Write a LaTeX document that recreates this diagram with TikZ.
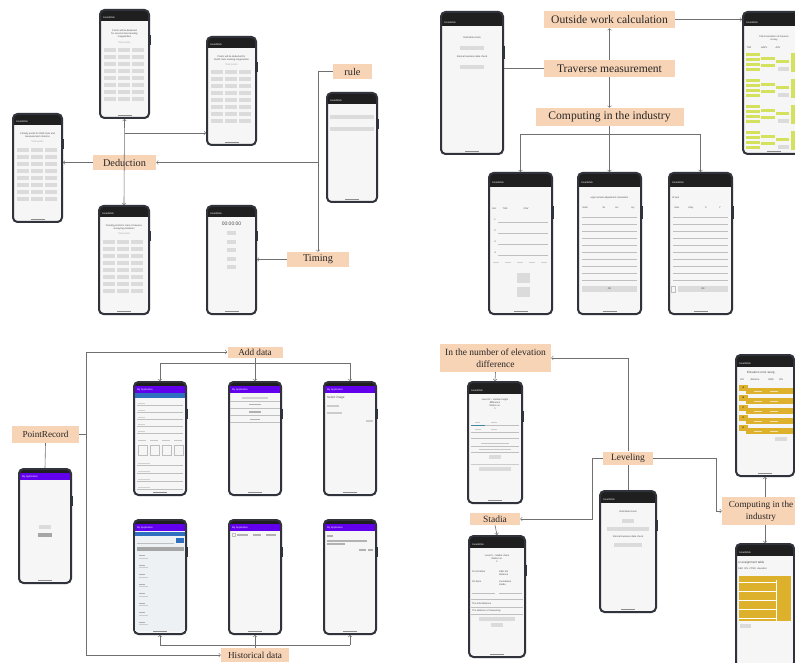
\documentclass[tikz,border=0pt]{standalone}
\usepackage{fontspec}
\setmainfont{Liberation Serif}
\setsansfont{Liberation Sans}
\usetikzlibrary{positioning,calc}
\definecolor{peach}{HTML}{F8D4B6}
\definecolor{bezelgray}{HTML}{30333B}
\definecolor{screengray}{HTML}{F6F6F6}
\definecolor{appbar}{HTML}{1F1F1F}
\definecolor{apppurple}{HTML}{6200EE}
\definecolor{appblue}{HTML}{2F6FBF}
\definecolor{limegreen}{HTML}{D3E15C}
\definecolor{goldbar}{HTML}{DDB12B}
\definecolor{linkgray}{HTML}{707070}
\definecolor{listbg}{HTML}{EEF1F4}

\tikzset{
  screenbody/.style={fill=screengray, rounded corners=6pt, inner sep=0pt, outer sep=0pt},
  bezel/.style={draw=bezelgray, line width=2pt, rounded corners=4.5pt},
  lbl/.style={fill=peach, inner sep=0pt, align=center, text=black!85, font=\fontsize{#1}{12}\selectfont},
  link/.style={draw=linkgray, line width=0.6pt},
  uitext/.style={font=\sffamily\fontsize{2.4}{3}\selectfont, text=black!70, inner sep=0pt},
  bartext/.style={font=\sffamily\fontsize{2.4}{3}\selectfont, text=white, inner sep=0pt},
  btn/.style={fill=black!14},
  smudge/.style={fill=black!30},
  rowline/.style={draw=black!25, line width=0.3pt},
}

% phone: name, left, top, width, height, bar colour, title
\newcommand{\smartphone}[7]{%
  \node[screenbody, minimum width=#4pt, minimum height=#5pt, anchor=north west] (#1) at (#2,#3) {};
  \fill[#6] (#2+2,#3+2) rectangle (#2+#4-2,#3+0.105*#5);
  \fill[appbar] (#2+2,#3+2) rectangle (#2+#4-2,#3+0.045*#5);
  \node[bartext, anchor=west] at (#2+4,#3+0.078*#5) {#7};
  \draw[bezel] (#2+1,#3+1) rectangle (#2+#4-1,#3+#5-1);
  \draw[bezelgray, line width=1pt] (#2+#4+0.3,#3+0.24*#5) -- ++(0,0.09*#5);
  \draw[black!45, line width=0.8pt] (#2+#4/2-7,#3+#5-3.5) -- ++(14,0);
}
% 3 x 8 grid of score keys
\newcommand{\keypad}[1]{%
  \foreach \r in {0,...,7}{\foreach \c in {0,1,2}{\fill[btn] (5+\c*14,#1+\r*7) rectangle ++(12,4);}}%
}

\begin{document}
\begin{tikzpicture}[x=1pt, y=-1pt]
  \useasboundingbox (0,0) rectangle (795,663);
  \clip (0,0) rectangle (795,663);
  \fill[white] (0,0) rectangle (795,663);

  % Deduction screens
  \smartphone{A}{99}{9}{51}{110}{appbar}{SmartENG}
  \begin{scope}[shift={(99,9)}]
    \node[uitext, align=center] at (25.5,25) {Points will be deducted\\for second class leveling\\irregularities};
    \node[uitext, text=black!35] at (25.5,34) {Total points};
    \keypad{39}
  \end{scope}
  \smartphone{B}{206}{36}{51}{110}{appbar}{SmartENG}
  \begin{scope}[shift={(206,36)}]
    \node[uitext, align=center] at (25.5,22) {Points will be deducted for\\fourth class leveling irregularities};
    \node[uitext, text=black!35] at (25.5,29) {Total points};
    \keypad{34}
  \end{scope}
  \smartphone{C}{12}{113}{51}{110}{appbar}{SmartENG}
  \begin{scope}[shift={(12,113)}]
    \node[uitext, align=center] at (25.5,22) {Penalty points for third class and\\measurement rotations};
    \node[uitext, text=black!35] at (25.5,29) {Total points};
    \keypad{35}
  \end{scope}
  \smartphone{D}{98}{205}{52}{110}{appbar}{SmartENG}
  \begin{scope}[shift={(98,205)}]
    \node[uitext, align=center] at (26,22) {Penalty points for class II traverse\\surveying violations};
    \node[uitext, text=black!35] at (26,29) {Total points};
    \keypad{35}
  \end{scope}

  % Timing and rule screens
  \smartphone{E}{206}{205}{51}{110}{appbar}{SmartENG}
  \begin{scope}[shift={(206,205)}]
    \node[uitext, font=\sffamily\fontsize{5}{6}\selectfont] at (25.5,19) {00:00:00};
    \foreach \k in {0,...,4} \fill[btn] (21,26+\k*8.5) rectangle ++(9,4);
  \end{scope}
  \smartphone{F}{326}{92}{52}{111}{appbar}{SmartENG}
  \begin{scope}[shift={(326,92)}]
    \fill[btn] (4,23) rectangle (48,27);
    \fill[btn] (4,35) rectangle (48,39);
  \end{scope}

  % Traverse screens
  \smartphone{G}{440}{11}{64}{144}{appbar}{SmartENG}
  \begin{scope}[shift={(440,11)}]
    \node[uitext] at (32,27) {Field data check};
    \fill[btn] (20,35) rectangle (44,39);
    \node[uitext] at (32,46) {Internal business data check};
    \fill[btn] (20,54) rectangle (44,58);
  \end{scope}
  \smartphone{H}{742}{11}{64}{144}{appbar}{SmartENG}
  \begin{scope}[shift={(742,11)}]
    \node[uitext, align=center] at (32,27) {Field calculation of traverse\\survey};
    \node[uitext] at (7,37) {TSR};
    \node[uitext] at (22,37) {HAZV};
    \node[uitext] at (36,37) {AZV};
    \foreach \g in {0,...,3}{
      \foreach \k in {0,...,3} \fill[limegreen] (4,42+\g*26+\k*5) rectangle ++(14,3.5);
      \fill[limegreen] (19,46+\g*26) rectangle ++(14,3.5);
      \fill[limegreen] (19,53+\g*26) rectangle ++(14,3.5);
      \fill[limegreen] (34,49+\g*26) rectangle ++(13,3.5);
      \fill[btn] (36,56+\g*26) rectangle ++(11,4);
      \fill[limegreen] (49,42+\g*26) rectangle ++(13,19);
    }
  \end{scope}
  \smartphone{I}{488}{172}{65}{143}{appbar}{SmartENG}
  \begin{scope}[shift={(488,172)}]
    \node[uitext] at (6,37) {GH};
    \node[uitext] at (17,37) {TGS};
    \node[uitext] at (38,37) {CAV};
    \foreach \k in {1,...,4}{
      \node[uitext] at (7,37+\k*11) {\k};
      \draw[rowline] (10,39+\k*11) -- (60,39+\k*11);
    }
    \foreach \k in {0,...,4} \fill[smudge, fill=black!18] (5+\k*12,90) rectangle ++(6,1.2);
    \fill[btn] (29,101) rectangle ++(13,10);
    \fill[btn] (29,115) rectangle ++(13,10);
  \end{scope}
  \smartphone{J}{577}{172}{65}{143}{appbar}{SmartENG}
  \begin{scope}[shift={(577,172)}]
    \node[uitext] at (32.5,26) {approximate adjustment calculation};
    \node[uitext] at (8,36) {mulb};
    \node[uitext] at (27,36) {SL};
    \node[uitext] at (40,36) {Gx};
    \node[uitext] at (56,36) {Gy};
    \foreach \k in {0,...,9} \draw[rowline] (5,45+\k*7) -- (60,45+\k*7);
    \fill[btn] (5,114) rectangle (60,120);
    \node[uitext] at (32.5,117) {OK};
  \end{scope}
  \smartphone{K}{668}{172}{65}{143}{appbar}{SmartENG}
  \begin{scope}[shift={(668,172)}]
    \node[uitext, anchor=west] at (4,26) {of wire};
    \node[uitext] at (9,36) {HGx};
    \node[uitext] at (23,36) {HGy};
    \node[uitext] at (38,36) {X};
    \node[uitext] at (52,36) {Y};
    \foreach \k in {0,...,9} \draw[rowline] (5,45+\k*7) -- (60,45+\k*7);
    \draw[rowline] (3,114) rectangle ++(4,6);
    \fill[btn] (10,114) rectangle (60,120);
    \node[uitext] at (35,117) {OK};
  \end{scope}

  % PointRecord screens
  \smartphone{L}{18}{468}{54}{116}{apppurple}{My Application}
  \begin{scope}[shift={(18,468)}]
    \fill[btn] (21,57) rectangle ++(12,4);
    \fill[btn, fill=black!35] (20,65) rectangle ++(14,4);
  \end{scope}
  \smartphone{M}{133}{381}{54}{115}{apppurple}{My Application}
  \begin{scope}[shift={(133,381)}]
    \fill[appblue] (2,12) rectangle (52,17);
    \foreach \k in {0,...,4}{
      \fill[smudge, fill=black!18] (5,22+\k*7) rectangle ++(7,1);
      \draw[rowline] (4,24+\k*7) -- (50,24+\k*7);
    }
    \foreach \k in {0,...,3}{
      \fill[smudge, fill=black!22] (5+\k*12,59) rectangle ++(8,1.2);
      \draw[rowline] (5+\k*12,64) rectangle ++(9,10);
    }
    \foreach \k in {0,...,3}{
      \fill[smudge, fill=black!18] (5,82+\k*8) rectangle ++(12,1);
      \draw[rowline] (4,84+\k*8) -- (50,84+\k*8);
    }
  \end{scope}
  \smartphone{N}{228}{381}{54}{115}{apppurple}{My Application}
  \begin{scope}[shift={(228,381)}]
    \fill[smudge, fill=black!18] (14,16.4) rectangle (40,17.6);
    \draw[rowline] (2,20) -- (52,20);
    \fill[smudge] (21,22.9) rectangle (33,24.1);
    \draw[rowline] (2,27) -- (52,27);
    \fill[smudge] (21,30.4) rectangle (33,31.6);
    \draw[rowline] (2,34.5) -- (52,34.5);
    \fill[smudge] (22,37.9) rectangle (32,39.1);
    \draw[rowline] (2,41) -- (52,41);
  \end{scope}
  \smartphone{O}{323}{381}{54}{115}{apppurple}{My Application}
  \begin{scope}[shift={(323,381)}]
    \node[uitext, anchor=west, font=\sffamily\fontsize{3}{3.5}\selectfont] at (4,17) {Select image};
    \fill[smudge, fill=black!20] (4,24.4) rectangle ++(12,1.2);
    \fill[smudge, fill=black!20] (4,31.4) rectangle ++(15,1.2);
    \fill[smudge, fill=black!20] (43,39.4) rectangle ++(7,1.2);
  \end{scope}
  \smartphone{M2}{133}{519}{54}{116}{apppurple}{My Application}
  \begin{scope}[shift={(133,519)}]
    \fill[listbg] (2,17) rectangle (52,112);
    \fill[appblue] (2,12.5) rectangle (52,17);
    \draw[rowline] (4,24) -- (41,24);
    \fill[appblue] (43,19) rectangle (51,24);
    \fill[black!35] (4,28) rectangle (51,32);
    \foreach \k in {0,...,7}{
      \fill[smudge] (6,36+\k*9.5) rectangle ++(6,1.1);
      \fill[smudge, fill=black!20] (6,38.5+\k*9.5) rectangle ++(9,1.1);
    }
  \end{scope}
  \smartphone{N2}{228}{519}{54}{116}{apppurple}{My Application}
  \begin{scope}[shift={(228,519)}]
    \draw[rowline] (4,14.5) rectangle ++(3,3);
    \fill[smudge] (9,15.4) rectangle ++(11,1.2);
    \fill[smudge] (25,15.4) rectangle ++(8,1.2);
    \fill[smudge] (38,15.4) rectangle ++(10,1.2);
  \end{scope}
  \smartphone{O2}{323}{519}{54}{116}{apppurple}{My Application}
  \begin{scope}[shift={(323,519)}]
    \fill[smudge] (4,16.4) rectangle ++(6,1.2);
    \fill[smudge] (4,21.4) rectangle ++(40,1.2);
    \fill[smudge] (4,24.4) rectangle ++(18,1.2);
    \fill[smudge] (36,30.4) rectangle ++(7,1.2);
    \fill[smudge] (45,30.4) rectangle ++(5,1.2);
  \end{scope}

  % Leveling screens
  \smartphone{P}{467}{381}{56}{123}{appbar}{SmartENG}
  \begin{scope}[shift={(467,381)}]
    \node[uitext, align=center] at (28,23) {Level IV -- median height\\difference\\Station no.\\1};
    \fill[smudge, fill=black!20] (8,41) rectangle ++(5,1);
    \fill[smudge, fill=black!20] (24,41) rectangle ++(6,1);
    \draw[rowline, draw=cyan!60!black] (4,44) -- (18,44);
    \draw[rowline] (18,44) -- (52,44);
    \fill[smudge, fill=black!20] (8,48) rectangle ++(6,1);
    \fill[smudge, fill=black!20] (24,48) rectangle ++(6,1);
    \draw[rowline] (4,51) -- (52,51);
    \draw[rowline] (4,57) -- (52,57);
    \fill[smudge, fill=black!22] (14,61.5) rectangle (42,62.5);
    \draw[rowline] (4,65) -- (52,65);
    \fill[smudge, fill=black!22] (12,68) rectangle (44,69);
    \draw[rowline] (4,71) -- (52,71);
    \fill[btn] (22,74) rectangle ++(12,4);
    \fill[smudge, fill=black!20] (4,82.5) rectangle (52,83.5);
    \fill[btn] (12,86) rectangle ++(32,4);
  \end{scope}
  \smartphone{Q}{468}{535}{58}{123}{appbar}{SmartENG}
  \begin{scope}[shift={(468,535)}]
    \node[uitext, align=center] at (29,24) {Level II -- Stadia check\\Station no.\\1};
    \node[uitext, anchor=west] at (4,37) {Front before};
    \node[uitext, anchor=north west, align=left] at (31,35.5) {After the\\distance};
    \node[uitext, anchor=west] at (4,47) {On back};
    \node[uitext, anchor=north west, align=left] at (31,45.5) {Cumulative\\stadia};
    \draw[rowline] (4,58) -- (27,58);
    \draw[rowline] (31,58) -- (54,58);
    \draw[rowline] (3,64) -- (55,64);
    \node[uitext, anchor=west] at (4,69) {The total distance};
    \draw[rowline] (3,72) -- (55,72);
    \node[uitext, anchor=west] at (4,76) {The distance of measuring};
    \draw[rowline] (3,79) -- (55,79);
    \fill[btn] (11,81.5) rectangle ++(36,4);
    \fill[btn] (23,87.5) rectangle ++(12,4);
  \end{scope}
  \smartphone{R}{599}{490}{58}{123}{appbar}{SmartENG}
  \begin{scope}[shift={(599,490)}]
    \node[uitext] at (29,22) {Field data check};
    \fill[btn] (23,28.5) rectangle ++(12,4);
    \fill[btn] (8,37) rectangle ++(42,4);
    \node[uitext] at (29,47) {Internal business data check};
    \fill[btn] (15,53) rectangle ++(28,4);
  \end{scope}
  \smartphone{S}{735}{354}{60}{123}{appbar}{SmartENG}
  \begin{scope}[shift={(735,354)}]
    \node[uitext, anchor=west, font=\sffamily\fontsize{3}{3.5}\selectfont] at (12,19) {Elevation error assig};
    \node[uitext] at (7,26) {ON};
    \node[uitext] at (20,26) {distance};
    \node[uitext] at (36,26) {OBD};
    \node[uitext] at (46,26) {ON};
    \foreach \l [count=\n from 0] in {A,B,C,D,E}{
      \fill[goldbar] (11,34+\n*10) rectangle (58,40+\n*10);
      \fill[goldbar] (4,31+\n*10) rectangle ++(9,6);
      \node[uitext, text=black] at (8.5,34+\n*10) {\l};
      \fill[white!60!goldbar] (19,36.6+\n*10) rectangle ++(8,0.8);
      \fill[white!60!goldbar] (35,36.6+\n*10) rectangle ++(8,0.8);
    }
    \fill[btn] (40,83) rectangle ++(12,4);
  \end{scope}
  \smartphone{T}{735}{543}{60}{125}{appbar}{SmartENG}
  \begin{scope}[shift={(735,543)}]
    \node[uitext, anchor=west, font=\sffamily\fontsize{3}{3.5}\selectfont] at (3,20) {or assignment table};
    \node[uitext, anchor=west] at (3,26) {SED\ \ ON\ \ CTED\ \ elevation};
    \fill[goldbar] (4,33) rectangle (56,78);
    \foreach \k in {0,...,4} \draw[white, line width=1pt] (4,39+\k*9) -- (41,39+\k*9);
    \draw[white, line width=0.5pt] (41,37) -- (41,78);
    \fill[btn] (5,81) rectangle ++(11,4);
  \end{scope}

  % labels
  \node[lbl=10.3, minimum width=63pt, minimum height=15pt] (ded) at (124.5,162.5) {Deduction};
  \node[lbl=10.3, minimum width=39pt, minimum height=15pt] (rule) at (352.5,71.5) {rule};
  \node[lbl=10.3, minimum width=62pt, minimum height=15pt] (tim) at (318,259.5) {Timing};
  \node[lbl=11.6, minimum width=131pt, minimum height=17pt] (out) at (609.5,19.5) {Outside work calculation};
  \node[lbl=11.6, minimum width=131pt, minimum height=17pt] (trav) at (609.5,68.5) {Traverse measurement};
  \node[lbl=11.6, minimum width=148pt, minimum height=18pt] (comp) at (609.5,117) {Computing in the industry};
  \node[lbl=9.2, minimum width=55pt, minimum height=11pt] (add) at (255,352) {Add data};
  \node[lbl=9.2, minimum width=67pt, minimum height=17pt] (pr) at (45.5,434.5) {PointRecord};
  \node[lbl=9.2, minimum width=68pt, minimum height=14pt] (hist) at (255,655) {Historical data};
  \node[lbl=9.5, minimum width=111pt, minimum height=28pt] (elev) at (495.5,358) {In the number of elevation\\difference};
  \node[lbl=9.5, minimum width=50pt, minimum height=12pt] (stad) at (495,519) {Stadia};
  \node[lbl=9.5, minimum width=50pt, minimum height=13pt] (lev) at (628,458) {Leveling};
  \node[lbl=9.2, minimum width=78pt, minimum height=28pt] (comp2) at (761,511) {Computing in the\\industry};

  % Deduction links
  \draw[link,<->] (A.south) -- (D.north);
  \coordinate (abr) at (124.5,133);
  \draw[link,->] (abr) -- (abr -| B.west);
  \draw[link,->] (ded.west) -- (ded.west -| C.east);
  \draw[link,->] (rule.west) -| (tim.north);
  \draw[link,->] (tim.north |- ded.east) -- (ded.east);
  \draw[link,->] (tim.west) -- (tim.west -| E.east);

  % Traverse links
  \draw[link] (G.east |- trav.west) -- (trav.west);
  \draw[link,->] (trav.north) -- (out.south);
  \draw[link,->] (trav.south) -- (comp.north);
  \draw[link,->] (out.east) -- (out.east -| H.west);
  \draw[link,->] (comp.south) -- (J.north);
  \coordinate (cbr) at (609.5,134);
  \draw[link] (I.north |- cbr) -- (K.north |- cbr);
  \draw[link,->] (I.north |- cbr) -- (I.north);
  \draw[link,->] (K.north |- cbr) -- (K.north);

  % PointRecord links
  \draw[link] (pr.south) -- (L.north);
  \coordinate (pbr) at (86,434.5);
  \draw[link] (pr.east) -- (pbr);
  \draw[link,->] (pbr) |- (add.west);
  \draw[link,->] (pbr) |- (hist.west);
  \draw[link,->] (add.south) -- (N.north);
  \coordinate (abr2) at (255,363);
  \draw[link] (M.north |- abr2) -- (O.north |- abr2);
  \draw[link,->] (M.north |- abr2) -- (M.north);
  \draw[link,->] (O.north |- abr2) -- (O.north);
  \draw[link,->] (hist.north) -- (N2.south);
  \coordinate (hbr) at (255,645);
  \draw[link] (M2.south |- hbr) -- (O2.south |- hbr);
  \draw[link,->] (M2.south |- hbr) -- (M2.south);
  \draw[link,->] (O2.south |- hbr) -- (O2.south);

  % Leveling links
  \draw[link] (R.north) -- (lev.south);
  \draw[link,->] (lev.north) |- (elev.east);
  \draw[link,->] (lev.west) -- ++(-11,0) |- (stad.east);
  \draw[link,->] (lev.east) -- ++(63,0) |- (comp2.west);
  \draw[link,->] (elev.south) -- (P.north);
  \draw[link,->] (stad.south) -- (Q.north);
  \draw[link,->] (S.south |- comp2.north) -- (S.south);
  \draw[link,->] (T.north |- comp2.south) -- (T.north);
\end{tikzpicture}
\end{document}
